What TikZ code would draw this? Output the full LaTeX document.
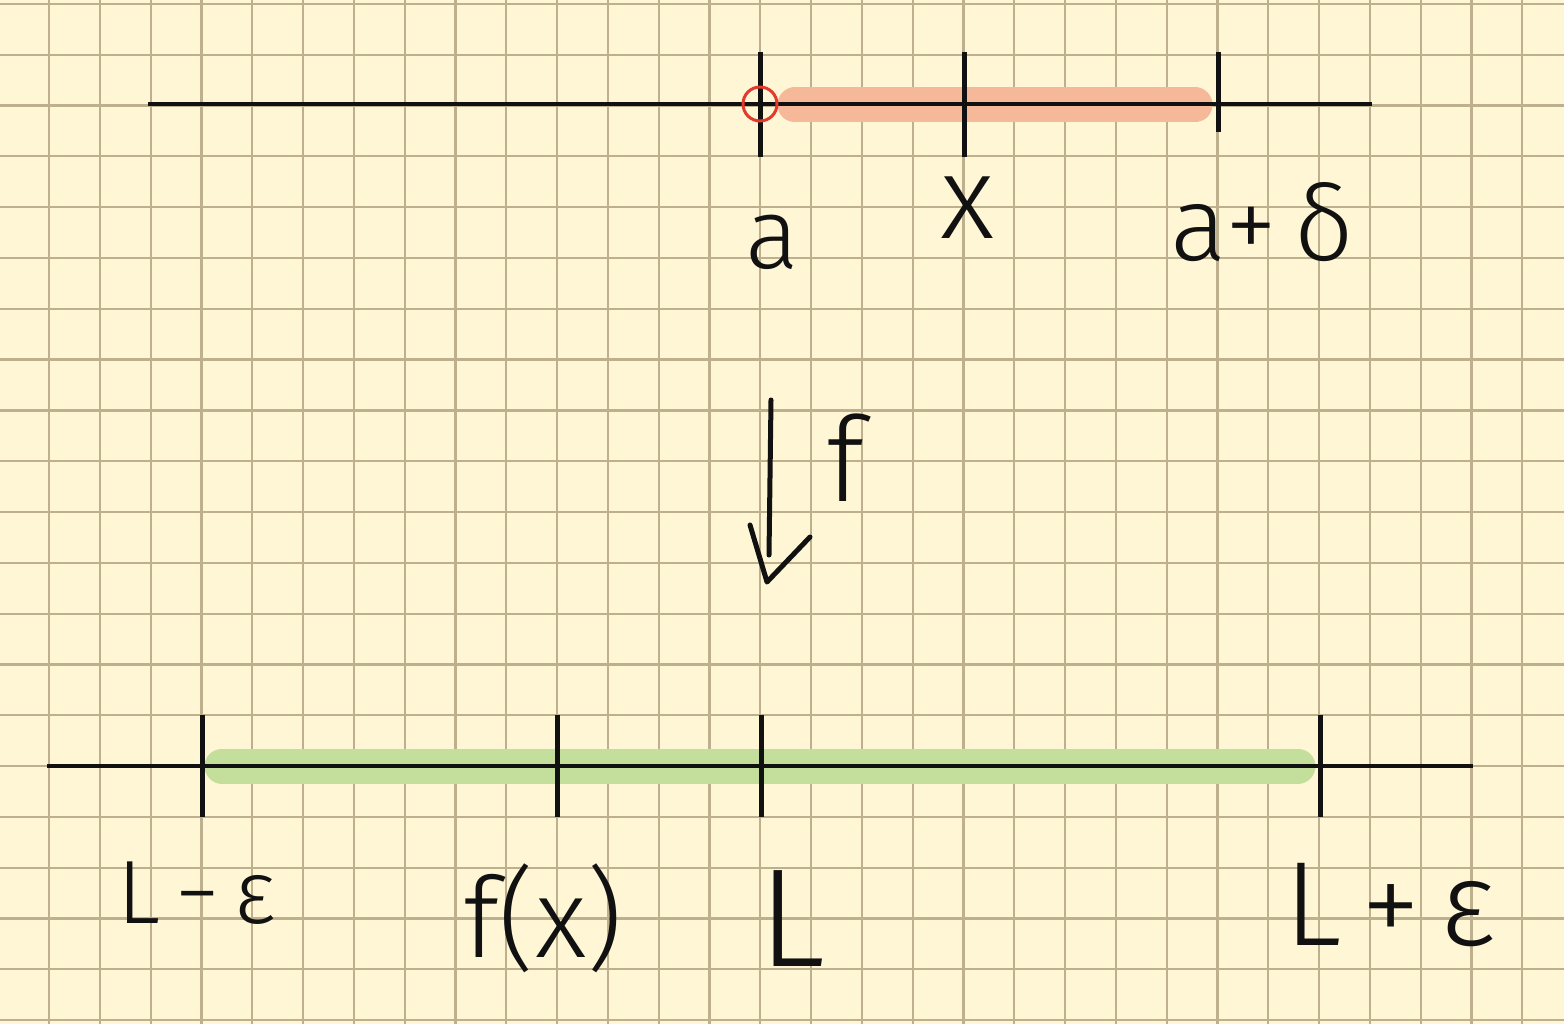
\documentclass[tikz,border=0pt]{standalone}
\usepackage{fontspec}
\setmainfont{Fira Sans}[UprightFont={* Light}]
\definecolor{paper}{HTML}{FFF6D6}
\definecolor{gridc}{HTML}{BFB08D}
\definecolor{hlorange}{HTML}{F5B899}
\definecolor{hlgreen}{HTML}{C4DF9C}
\definecolor{ink}{HTML}{111111}
\definecolor{circred}{HTML}{E23A2C}
\newcommand{\hsz}[1]{\fontsize{#1}{#1}\selectfont}
\begin{document}
\begin{tikzpicture}[x=1pt,y=-1pt,
  gridline/.style={draw=gridc,line width=2.2pt},
  axisline/.style={draw=ink,line width=4.5pt},
  tickline/.style={draw=ink,line width=5pt},
  hl/.style={line width=35pt,line cap=round},
  lbl/.style={inner sep=0pt,text=ink}]
\fill[paper] (0,0) rectangle (1564,1024);
\useasboundingbox (0,0) rectangle (1564,1024);
\foreach \i in {0,...,31} \draw[gridline] ({-1.8+50.8*\i},0) -- ({-1.8+50.8*\i},1024);
\foreach \j in {0,...,20} \draw[gridline] (0,{4+50.8*\j}) -- (1564,{4+50.8*\j});
% highlights
\draw[hl,hlorange] (795,105) -- (1195,105);
\draw[hl,hlgreen] (222,766) -- (1298,766);
% top axis
\coordinate (ta) at (148,104);
\coordinate (tb) at (1372,104);
\draw[axisline] (ta) -- (tb);
\draw[tickline] (760,52) -- (760,157);
\draw[tickline] (964,52) -- (964,157);
\draw[tickline] (1218,52) -- (1218,132);
\draw[circred,line width=3pt] (760,104) circle (17);
% bottom axis
\coordinate (ba) at (47,766);
\coordinate (bb) at (1473,766);
\draw[axisline] (ba) -- (bb);
\draw[tickline] (202,715) -- (202,817);
\draw[tickline] (557,715) -- (557,817);
\draw[tickline] (761,715) -- (761,817);
\draw[tickline] (1320,715) -- (1320,817);
% arrow f
\coordinate (fs) at (771,400);
\coordinate (fe) at (769,555);
\coordinate (hl1) at (750,525);
\coordinate (hp) at (767,582);
\coordinate (hr) at (810,537);
\draw[ink,line width=5pt,line cap=round] (fs) -- (fe);
\draw[ink,line width=5pt,line cap=round,line join=round] (hl1) -- (hp) -- (hr);
% labels
\node[lbl] (la) at (772,242) {\hsz{100}a};
\node[lbl] (lx) at (968,208) {\hsz{118}x};
\node[lbl] (lad) at (1262,222) {\hsz{105}a+\,δ};
\node[lbl] (lf) at (845,458) {\hsz{118}f};
\node[lbl] (llm) at (197,893) {\hsz{90}L\,−\,ε};
\node[lbl] (lfx) at (543,918) {\hsz{112}f(x)};
\node[lbl] (lL) at (792,919) {\hsz{140}L};
\node[lbl] (llp) at (1390,905) {\hsz{120}L\,+\,ε};
\end{tikzpicture}
\end{document}
